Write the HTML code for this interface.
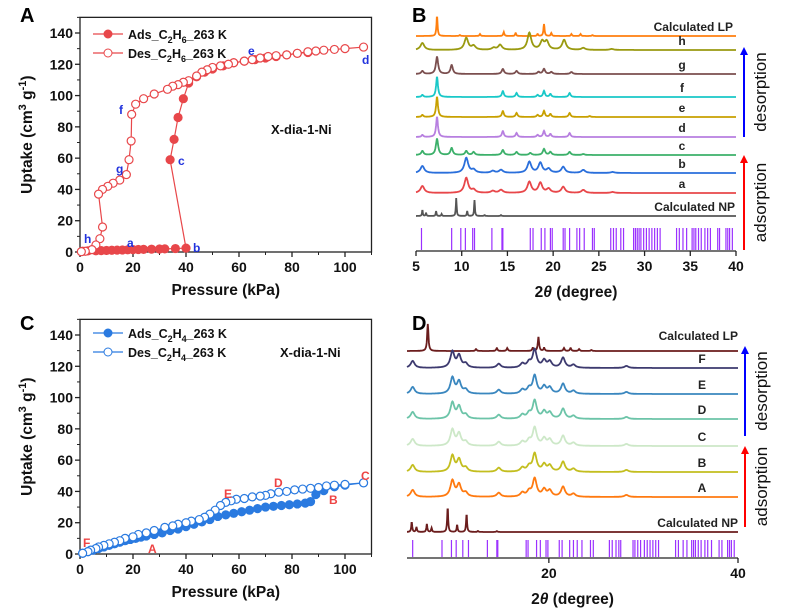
<!DOCTYPE html>
<html><head><meta charset="utf-8"><style>
body{margin:0;background:#fff}
svg{display:block;font-family:"Liberation Sans",Arial,sans-serif}
</style></head><body>
<svg id="fig" width="800" height="616" viewBox="0 0 800 616"></svg>
<script>
// ===== Panel A data (C2H6) =====
const adsAx=[1,3,6,8,10,12,14,16,18,20,22,24,27,30,32,36,40,34,35.5,37,39,41,44,47,50,54,58,62,66,70,74,78,82,86];
const adsAy=[0.5,0.7,0.8,0.9,1,1.1,1.2,1.3,1.4,1.5,1.6,1.7,1.8,1.9,2,2.2,2.5,59,72,86,98,108,112,115,117,119,121,122,123,124,125,126,127,127.5];
const desAx=[107,100,96,92,89,86,82,78,74,71,68,65,62,58,56,53,50,48,46,44,41,39,37,35,33,28,24,21,19.5,19.3,18.5,17.5,15,12.5,10.5,8.5,7,8.5,7.5,6,4.5,2,0.5];
const desAy=[131,130,129.5,129,128.5,128,127,126,125.5,125,124,123,122,121,120,119,118,116.5,115,112.5,109.5,108.5,107,106,104,101,98,94.5,88,71,59,49.5,46,44,42,40,37,16,8.5,4.5,1.5,0.5,0.2];
// ===== Panel C data (C2H4) =====
const adsCx=[1,3,5,7,9,11,13,15,17,19,21,23,25,28,31,34,37,40,43,46,49,52,55,58,61,64,67,70,73,76,79,82,85,87,89,92,96,100,107];
const adsCy=[0.5,1.5,2.5,3.5,4.5,5.5,6.5,7.5,8.5,9.3,10,10.8,11.5,12.5,13.5,15,16,17.5,19,20.5,22,24,25,26,27,28,29,30,30.5,31,31.5,32,32.5,33.5,38,40.5,43,44,45.5];
const desCx=[107,100,96,93,90,87,84,81,78,75,72,70,68,65,62,59,57,55,53,51,49,47,45,42,40,37,35,32,28,25,22,20,17,15,13,11,9,7,6,4,3,1];
const desCy=[45.5,44.5,44,43.5,42.5,42,41.5,41,40,39.5,38.5,37.5,37,36.5,35.5,35,34,33,31,28,25.5,23.5,22,21,20,19,18,17,15,13.5,12.5,11,10,8.5,7.5,6.5,5.5,4.5,3.5,2.5,1.5,0.5];
const yTicks=[0,20,40,60,80,100,120,140];
const xTicks=[0,20,40,60,80,100];
// ===== Panel B XRD peaks [2theta, height(px)] =====
const bLabels=["Calculated  LP","h","g","f","e","d","c","b","a","Calculated NP"];
const bPeaks=[
 [[7.3,20],[9.8,1],[12,2],[14.6,4],[15.9,3],[18.3,2],[19,12],[19.8,3],[22,2],[23,2],[24.3,1]],
 [[5.7,7],[10.5,12],[11.3,4],[13.5,2],[14.2,5],[17.4,17],[18.8,8],[19.3,8],[21.2,10],[23.3,2],[26.4,1]],
 [[5.7,3],[7.3,17],[8.9,9],[14.5,5],[16,3],[18.4,2],[19,5],[19.8,2],[22,2]],
 [[5.7,2],[7.3,20],[14.5,6],[16,4],[18.3,2],[19,6],[19.7,3],[21.8,4]],
 [[5.7,2],[7.3,20],[14.5,6],[16,4],[18.3,2],[19,6],[19.7,3],[21.8,4],[24,1]],
 [[5.7,2],[7.3,20],[14.5,6],[16,4],[18.3,2],[19,6],[19.7,3],[21.8,4]],
 [[5.7,4],[7.3,16],[8.9,7],[10.5,4],[11.3,3],[14.5,5],[16,3],[17.5,2],[19,6],[19.7,3],[21.8,3],[23.3,1]],
 [[5.7,7],[10.5,15],[11.3,3],[13.4,2],[14.3,3],[17.4,11],[18.6,10],[19.5,4],[21.1,6],[23.3,3],[26.5,1]],
 [[5.7,7],[10.5,15],[11.3,3],[13.4,2],[14.3,3],[17.4,11],[18.6,10],[19.5,4],[21.1,6],[23.3,3],[26.5,1]],
 [[5.7,6],[6.1,3],[7.2,5],[7.8,2],[9.4,18],[10.6,5],[11.4,16],[12.5,1],[14.3,1]]
];
const bBase=[36,50,74,97,117,137,155,173,193,216];
const bColors=["#ff7f0e","#9a9a10","#7b4f4f","#19c8c8","#c8a000","#b77fe0","#3cb06a","#2a6fdb","#e8474a","#555555"];
const bWidth=[0.07,0.25,0.15,0.12,0.12,0.12,0.15,0.25,0.25,0.05];
const bRefl=[5.6,8.9,9.9,10.4,11.2,11.4,13.3,14.4,14.5,17.5,17.8,18.7,19.1,19.7,19.9,21.1,21.3,21.8,22.6,22.9,23.4,24.3,24.5,26.3,26.6,26.9,27.4,27.7,28.8,29.0,29.2,29.4,29.6,29.9,30.2,30.5,30.8,31.1,31.4,31.7,33.5,33.8,34.2,34.6,35.2,35.4,35.6,35.9,36.2,36.6,36.9,37.2,38.0,38.2,38.9,39.1,39.3,39.6];
// ===== Panel D XRD peaks =====
const dLabels=["Calculated LP","F","E","D","C","B","A","Calculated NP"];
const dExp=[[5.6,7],[9.8,16],[10.5,12],[11.2,4],[14.7,4],[17.2,4],[17.9,5],[18.5,18],[19.5,7],[20.1,6],[21.5,10],[22.6,3],[28.2,2]];
const dPeaks=[
 [[7.2,27],[12.3,2],[14.5,3],[15.6,3],[18.3,3],[18.9,14],[19.5,3],[21.6,3],[22.3,3],[23.2,2],[24.5,1]],
 dExp,dExp,dExp,dExp,dExp,dExp,
 [[5.5,10],[6.0,5],[7.1,8],[7.6,4],[9.3,25],[10.3,7],[11.3,18],[12.5,1],[14.5,1]]
];
const dBase=[351,368,394,419,446,472,497,532];
const dColors=["#6b1d1d","#3d3a6f","#3a87bf","#6cc4a8","#cde8c8","#c3be1f","#ff7a10","#6b1d1d"];
const dWidth=[0.08,0.25,0.25,0.25,0.25,0.25,0.25,0.06];
const dRefl=[5.6,8.7,9.7,10.2,10.9,11.5,13.5,14.5,14.6,17.6,17.8,18.7,19.1,19.7,19.9,21.1,21.4,22.2,22.6,23.0,23.5,24.4,24.7,26.4,26.7,27.1,27.4,27.6,28.9,29.1,29.4,29.7,30.1,30.4,30.7,31.0,31.3,31.6,33.4,33.7,34.2,34.6,35.1,35.3,35.5,35.8,36.1,36.5,36.8,37.2,38.0,38.3,38.9,39.1,39.3,39.6];

const NS="http://www.w3.org/2000/svg";
const svg=document.getElementById('fig');
function mk(tag,attrs,parent){const e=document.createElementNS(NS,tag);for(const k in attrs)e.setAttribute(k,attrs[k]);(parent||svg).appendChild(e);return e;}
function txt(x,y,s,size,attrs,parent){const t=mk('text',Object.assign({x:x,y:y,'font-size':size,'font-weight':'bold',fill:'#111'},attrs||{}),parent);t.innerHTML=s;return t;}

function isoPanel(o){
  const g=mk('g',{});
  
  
  const X=v=>o.x0+v*(o.x1-o.x0)/100, Y=v=>o.y0-v*(o.y0-o.y1)/140;
  mk('rect',{x:o.x0,y:Y(150),width:X(110)-o.x0,height:o.y0-Y(150),fill:'none',stroke:'#222','stroke-width':1.3},g);
  yTicks.forEach(v=>{mk('line',{x1:o.x0,x2:o.x0-5,y1:Y(v),y2:Y(v),stroke:'#222','stroke-width':1.3},g);
    mk('line',{x1:o.x0,x2:o.x0-3,y1:Y(v+10),y2:Y(v+10),stroke:'#222'},g);
    const t=txt(o.x0-7,Y(v)+5,v,14,{'text-anchor':'end'},g);
    });
  xTicks.forEach(v=>{mk('line',{x1:X(v),x2:X(v),y1:o.y0,y2:o.y0+5,stroke:'#222','stroke-width':1.3},g);
    mk('line',{x1:X(v+10),x2:X(v+10),y1:o.y0,y2:o.y0+3,stroke:'#222'},g);
    const t=txt(X(v),o.y0+20,v,14,{'text-anchor':'middle'},g);
    });
  const xt=txt((o.x0+X(110))/2,o.y0+43,'Pressure (kPa)',15.5,{'text-anchor':'middle'},g);
  
  const yt=txt(0,0,'Uptake (cm<tspan dy="-6" font-size="11">3</tspan><tspan dy="6"> g</tspan><tspan dy="-6" font-size="11">-1</tspan><tspan dy="6">)</tspan>',15.5,{'text-anchor':'middle',transform:`translate(${o.x0-48},${(o.y0+Y(150))/2}) rotate(-90)`},g);
  
  const series=[[o.ax,o.ay,true,'ads-series'],[o.dx,o.dy,false,'des-series']];
  series.forEach(([xs,ys,filled,nm])=>{
    const sg=mk('g',{},g);
    
    mk('polyline',{points:xs.map((x,i)=>X(x)+','+Y(ys[i])).join(' '),fill:'none',stroke:o.col,'stroke-width':1.2},sg);
    xs.forEach((x,i)=>{const c=mk('circle',{cx:X(x),cy:Y(ys[i]),r:4,fill:filled?o.col:'#fff',stroke:o.col,'stroke-width':1.2},sg);
      });
  });
  [[true,o.l1],[false,o.l2]].forEach(([f,s],i)=>{
    const ly=o.legY+i*19;
    const lg=mk('g',{},g);
    
    mk('line',{x1:o.x0+13,x2:o.x0+43,y1:ly,y2:ly,stroke:o.col,'stroke-width':1.2},lg);
    mk('circle',{cx:o.x0+28,cy:ly,r:4,fill:f?o.col:'#fff',stroke:o.col},lg);
    txt(o.x0+48,ly+5,s,12.5,{},lg);
  });
  const nt=txt(o.noteX,o.noteY,'X-dia-1-Ni',13,{},g);
  
  o.ann.forEach(([s,x,y])=>{const a=txt(x,y,s,12,{fill:o.annCol},g);});
  const pl=txt(o.px,o.py,o.plabel,20,{fill:'#000'},g);
  
}
isoPanel({name:'panel-a-c2h6-isotherm',x0:80,x1:345,y0:252,y1:33,col:'#e8474a',ax:adsAx,ay:adsAy,dx:desAx,dy:desAy,
  l1:'Ads_C<tspan dy="4" font-size="9">2</tspan><tspan dy="-4">H</tspan><tspan dy="4" font-size="9">6</tspan><tspan dy="-4">_263 K</tspan>',
  l2:'Des_C<tspan dy="4" font-size="9">2</tspan><tspan dy="-4">H</tspan><tspan dy="4" font-size="9">6</tspan><tspan dy="-4">_263 K</tspan>',
  legY:34,noteX:271,noteY:134,annCol:'#2233dd',px:20,py:22,plabel:'A',
  ann:[['a',127,247],['b',193,252],['c',178,165],['d',362,64],['e',248,55],['f',119,114],['g',116,173],['h',84,243]]});
isoPanel({name:'panel-c-c2h4-isotherm',x0:80,x1:345,y0:554,y1:335,col:'#2a7ae0',ax:adsCx,ay:adsCy,dx:desCx,dy:desCy,
  l1:'Ads_C<tspan dy="4" font-size="9">2</tspan><tspan dy="-4">H</tspan><tspan dy="4" font-size="9">4</tspan><tspan dy="-4">_263 K</tspan>',
  l2:'Des_C<tspan dy="4" font-size="9">2</tspan><tspan dy="-4">H</tspan><tspan dy="4" font-size="9">4</tspan><tspan dy="-4">_263 K</tspan>',
  legY:333,noteX:280,noteY:357,annCol:'#ee4444',px:20,py:330,plabel:'C',
  ann:[['A',148,553],['B',329,504],['C',361,480],['D',274,487],['E',224,498],['F',83,547]]});

function xrdPanel(o){
  const g=mk('g',{});
  
  const X=v=>o.x0+(v-o.xmin)*(o.x1-o.x0)/(o.xmax-o.xmin);
  o.peaks.forEach((pk,i)=>{
    let pts=[];
    for(let t=o.xmin;t<=o.xmax+1e-9;t+=0.04){
      let y=0;pk.forEach(([c,h])=>{const d=(t-c)/o.w[i];y+=h/(1+d*d);});
      pts.push(X(t).toFixed(1)+','+(o.base[i]-y).toFixed(1));
    }
    const p=mk('polyline',{points:pts.join(' '),fill:'none',stroke:o.cols[i],'stroke-width':1.8},g);
    
    
    const ly=o.base[i]-5-(i==0?o.lpUp:0);
    const lab=txt(o.labX[i],ly,o.labels[i],12,{'text-anchor':i==0||i==o.labels.length-1?'end':'middle',fill:'#222'},g);
    
  });
  o.refl.forEach(r=>{const l=mk('line',{x1:X(r),x2:X(r),y1:o.ty0,y2:o.ty1,stroke:'#9b30ff','stroke-width':1.2},g);
    });
  mk('line',{x1:o.x0,x2:o.x1,y1:o.ay,y2:o.ay,stroke:'#222','stroke-width':1.3},g);
  o.ticks.forEach(v=>{mk('line',{x1:X(v),x2:X(v),y1:o.ay,y2:o.ay+5,stroke:'#222','stroke-width':1.3},g);
    const t=txt(X(v),o.ay+20,v,14,{'text-anchor':'middle'},g);});
  const xt=txt((o.x0+o.x1)/2,o.ay+46,'2<tspan font-style="italic">θ</tspan> (degree)',15.5,{'text-anchor':'middle'},g);
  
  const ax=o.arrX;
  mk('line',{x1:ax,x2:ax,y1:o.desc[1],y2:o.desc[0]+6,stroke:'#0000ff','stroke-width':2},g);
  mk('polygon',{points:`${ax-4},${o.desc[0]+8} ${ax+4},${o.desc[0]+8} ${ax},${o.desc[0]}`,fill:'#0000ff'},g);
  mk('line',{x1:ax,x2:ax,y1:o.ads[1],y2:o.ads[0]+6,stroke:'#ff0000','stroke-width':2},g);
  mk('polygon',{points:`${ax-4},${o.ads[0]+8} ${ax+4},${o.ads[0]+8} ${ax},${o.ads[0]}`,fill:'#ff0000'},g);
  const t1=txt(0,0,'desorption',17,{'text-anchor':'middle','font-weight':'normal',fill:'#111',transform:`translate(${ax+22},${(o.desc[0]+o.desc[1])/2}) rotate(-90)`},g);
  
  const t2=txt(0,0,'adsorption',17,{'text-anchor':'middle','font-weight':'normal',fill:'#111',transform:`translate(${ax+22},${(o.ads[0]+o.ads[1])/2}) rotate(-90)`},g);
  
  const pl=txt(o.px,o.py,o.plabel,20,{fill:'#000'},g);
  
}
xrdPanel({name:'panel-b-c2h6-pxrd',x0:416,x1:736,xmin:5,xmax:40,peaks:bPeaks,base:bBase,cols:bColors,w:bWidth,labels:bLabels,
  labX:[733,682,682,682,682,682,682,682,682,735],lpUp:0,refl:bRefl,ty0:228,ty1:250,ay:251,ticks:[5,10,15,20,25,30,35,40],
  arrX:744,desc:[47,137],ads:[155,250],px:412,py:22,plabel:'B'});
xrdPanel({name:'panel-d-c2h4-pxrd',x0:407,x1:738,xmin:5,xmax:40,peaks:dPeaks,base:dBase,cols:dColors,w:dWidth,labels:dLabels,
  labX:[738,702,702,702,702,702,702,738],lpUp:6,refl:dRefl,ty0:540,ty1:557,ay:558,ticks:[20,40],
  arrX:745,desc:[346,436],ads:[446,527],px:412,py:330,plabel:'D'});
</script>
</body></html>
